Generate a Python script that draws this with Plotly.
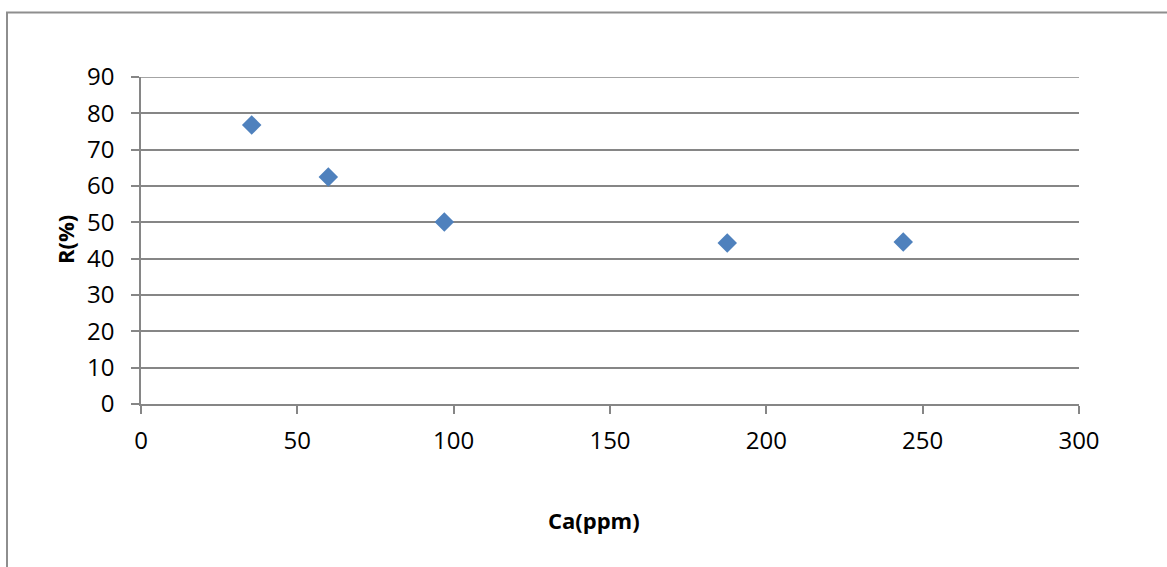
import plotly.graph_objects as go

# Calcium concentration (ppm) and removal efficiency R (%)
ca_ppm = [35.4, 59.9, 97.0, 187.5, 243.8]
r_pct = [76.8, 62.5, 50.1, 44.3, 44.6]

x_ticks = [0, 50, 100, 150, 200, 250, 300]
y_ticks = [0, 10, 20, 30, 40, 50, 60, 70, 80, 90]

W, H = 1167, 567
ML, MR, MT, MB = 141, 88, 77, 163
pw, ph = W - ML - MR, H - MT - MB

def px_to_paper_x(px):
    return (px - ML) / pw

def px_to_paper_y(py):
    return (H - MB - py) / ph

GRID = "#868686"
FONT = "Open Sans, Liberation Sans, sans-serif"

fig = go.Figure()
fig.add_trace(go.Scatter(
    x=ca_ppm, y=r_pct, mode="markers",
    marker=dict(symbol="diamond", size=15, color="#4F81BD", line=dict(width=0)),
    showlegend=False,
))

fig.update_layout(
    width=W, height=H,
    margin=dict(l=ML, r=MR, t=MT, b=MB),
    paper_bgcolor="white", plot_bgcolor="white",
    font=dict(family=FONT, size=24, color="black"),
    xaxis=dict(
        range=[0, 300], tickvals=x_ticks, showgrid=False, zeroline=False,
        showline=True, linecolor=GRID, linewidth=1.5,
        ticks="outside", ticklen=8, tickcolor=GRID, tickwidth=1.5,
        ticklabelstandoff=6,
    ),
    yaxis=dict(
        range=[0, 90], tickvals=y_ticks, showgrid=True, gridcolor=GRID, gridwidth=1.5,
        zeroline=False, showline=True, linecolor=GRID, linewidth=1.5,
        ticks="outside", ticklen=8, tickcolor=GRID, tickwidth=1.5,
        ticklabelstandoff=12,
    ),
)

# Top gridline at the end of the value axis
fig.add_shape(
    type="line", xref="paper", yref="y", x0=0, x1=1, y0=y_ticks[-1], y1=y_ticks[-1],
    line=dict(color=GRID, width=1.5), layer="below",
)

# Chart-area border
fig.add_shape(
    type="rect", xref="paper", yref="paper",
    x0=px_to_paper_x(7), x1=px_to_paper_x(W + 20),
    y0=px_to_paper_y(H + 20), y1=px_to_paper_y(12.5),
    line=dict(color="#8e8e8e", width=2), fillcolor="rgba(0,0,0,0)", layer="below",
)

# Axis titles
fig.add_annotation(
    text="<b>Ca(ppm)</b>", xref="paper", yref="paper",
    x=px_to_paper_x(594), y=px_to_paper_y(520),
    showarrow=False, xanchor="center", yanchor="middle",
    font=dict(family=FONT, size=22, color="black"),
)
fig.add_annotation(
    text="<b>R(%)</b>", xref="paper", yref="paper",
    x=px_to_paper_x(65), y=px_to_paper_y(240),
    showarrow=False, xanchor="center", yanchor="middle", textangle=-90,
    font=dict(family=FONT, size=22, color="black"),
)

fig.write_html("out.html")
